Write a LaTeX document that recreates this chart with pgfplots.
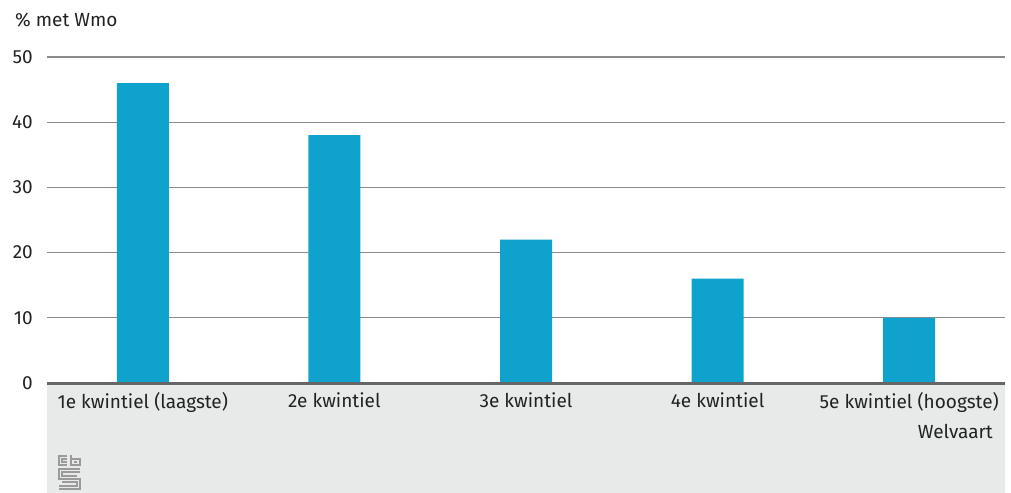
\documentclass[border=0pt]{standalone}
\usepackage{pgfplots}
\pgfplotsset{compat=1.18}
\usepackage{fontspec}
\setmainfont{Fira Sans}
\definecolor{cbsblue}{HTML}{0FA2CC}
\definecolor{cbsbg}{HTML}{E8EAEA}
\definecolor{gridgray}{HTML}{8A8A8A}
\definecolor{basegray}{HTML}{666666}
\definecolor{txt}{HTML}{222222}
\definecolor{logogray}{HTML}{9A9A9A}
\begin{document}
\begin{tikzpicture}
\fontsize{19bp}{22bp}\selectfont
\path (-47bp,-110bp) rectangle (964bp,383bp);
\fill[cbsbg] (0,-110bp) rectangle (958bp,0);
\begin{axis}[
  scale only axis,
  width=958bp, height=326bp,
  xmin=-0.5, xmax=4.5,
  ymin=0, ymax=50,
  ytick={0,10,20,30,40,50},
  xtick={0,1,2,3,4},
  xticklabels={1e kwintiel (laagste),2e kwintiel,3e kwintiel,4e kwintiel,5e kwintiel (hoogste)},
  axis line style={draw=none},
  tick style={draw=none},
  ymajorgrids,
  grid style={gridgray, line width=1.2bp},
  every tick label/.append style={font=\fontsize{19bp}{22bp}\selectfont, text=txt},
  yticklabel style={anchor=east, inner sep=0pt, xshift=-14bp},
  xticklabel style={anchor=north, inner sep=0pt, yshift=-9bp},
  /pgf/number format/assume math mode=true,
  clip=false,
]
\addplot[ybar, bar width=52bp, fill=cbsblue, draw=none] coordinates {(0,46) (1,38) (2,22) (3,16) (4,10)};
\draw[basegray, line width=3bp] (rel axis cs:0,0) -- (rel axis cs:1,0);
\end{axis}
\node[anchor=west, inner sep=0pt, text=txt] at (-32bp,363bp) {\% met Wmo};
\node[anchor=east, inner sep=0pt, text=txt] at (946bp,-48bp) {Welvaart};
\begin{scope}[logogray, line width=1.3bp, line cap=butt]
% c
\draw (20bp,-73bp) -- (12bp,-73bp) -- (12bp,-82bp) -- (20bp,-82bp);
\draw (20bp,-76bp) -- (15bp,-76bp) -- (15bp,-79bp) -- (20bp,-79bp);
% b
\draw (24bp,-72bp) -- (24bp,-82bp) -- (33bp,-82bp) -- (33bp,-76bp) -- (24bp,-76bp);
\draw (27bp,-79bp) -- (30bp,-79bp);
% S
\draw (33bp,-86bp) -- (12bp,-86bp) -- (12bp,-96bp) -- (33bp,-96bp) -- (33bp,-106bp) -- (12bp,-106bp);
\draw (33bp,-89bp) -- (15bp,-89bp) -- (15bp,-93bp) -- (30bp,-93bp);
\draw (12bp,-103bp) -- (30bp,-103bp) -- (30bp,-99bp) -- (15bp,-99bp);
\end{scope}
\end{tikzpicture}
\end{document}
